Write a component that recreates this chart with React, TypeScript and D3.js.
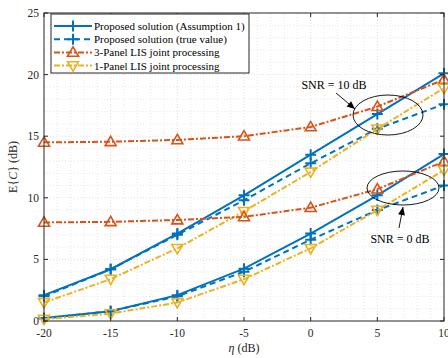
import React, { useEffect, useRef } from 'react';
import * as d3 from 'd3';

// x axis: eta (dB)
const etaValues = [-20, -15, -10, -5, 0, 5, 10];

// SNR = 10 dB
const proposedA1Snr10 = [2.1, 4.2, 7.1, 10.2, 13.5, 16.8, 20.1];
const proposedTrueSnr10 = [2.0, 4.2, 7.0, 9.8, 12.8, 15.6, 17.6];
const panel3Snr10 = [14.5, 14.55, 14.7, 15.0, 15.75, 17.4, 19.6];
const panel1Snr10 = [1.5, 3.4, 5.9, 8.9, 12.1, 15.6, 18.9];

// SNR = 0 dB
const proposedA1Snr0 = [0.25, 0.8, 2.1, 4.25, 7.1, 10.2, 13.55];
const proposedTrueSnr0 = [0.2, 0.8, 2.0, 4.0, 6.6, 9.0, 11.0];
const panel3Snr0 = [8.0, 8.05, 8.2, 8.45, 9.2, 10.7, 12.95];
const panel1Snr0 = [0.15, 0.6, 1.5, 3.4, 5.9, 9.0, 12.25];

const xTicks = [-20, -15, -10, -5, 0, 5, 10];
const yTicks = [0, 5, 10, 15, 20, 25];

const legendLabels = [
  'Proposed solution (Assumption 1)',
  'Proposed solution (true value)',
  '3-Panel LIS joint processing',
  '1-Panel LIS joint processing',
];

const App = () => {
  const svgRef = useRef(null);

  useEffect(() => {
    document.body.style.margin = '0';
    const width = 448;
    const height = 358;
    const m = { left: 44, right: 4, top: 13, bottom: 37 };
    const font = '"Liberation Serif", "DejaVu Serif", serif';

    const svg = d3.select(svgRef.current)
      .attr('width', width)
      .attr('height', height)
      .style('display', 'block')
      .style('font-family', font);
    svg.selectAll('*').remove();

    const x = d3.scaleLinear().domain([-20, 10]).range([m.left, width - m.right]);
    const y = d3.scaleLinear().domain([0, 25]).range([height - m.bottom, m.top]);

    const blue = '#0072BD';
    const orange = '#D95319';
    const yellow = '#EDB120';
    const axisCol = '#262626';

    svg.append('rect').attr('x', 0).attr('y', 0).attr('width', width).attr('height', height).attr('fill', '#fff');

    // grid (major + minor, dotted)
    const grid = svg.append('g');
    d3.range(-19, 10, 1).forEach(v => {
      grid.append('line')
        .attr('x1', x(v)).attr('x2', x(v)).attr('y1', y(0)).attr('y2', y(25))
        .attr('stroke', v % 5 === 0 ? '#d4d4d4' : '#e2e2e2')
        .attr('stroke-width', 0.8)
        .attr('stroke-dasharray', v % 5 === 0 ? '1,2' : '1,2');
    });
    d3.range(1, 25, 1).forEach(v => {
      grid.append('line')
        .attr('x1', x(-20)).attr('x2', x(10)).attr('y1', y(v)).attr('y2', y(v))
        .attr('stroke', v % 5 === 0 ? '#d4d4d4' : '#e2e2e2')
        .attr('stroke-width', 0.8)
        .attr('stroke-dasharray', '1,2');
    });

    // series
    const series = [
      { vals: proposedA1Snr10, color: blue, dash: null, marker: 'plus' },
      { vals: proposedTrueSnr10, color: blue, dash: '6,4', marker: 'plus' },
      { vals: panel3Snr10, color: orange, dash: '6,2,2,2', marker: 'tri' },
      { vals: panel1Snr10, color: yellow, dash: '6,2,2,2', marker: 'dtri' },
      { vals: proposedA1Snr0, color: blue, dash: null, marker: 'plus' },
      { vals: proposedTrueSnr0, color: blue, dash: '6,4', marker: 'plus' },
      { vals: panel3Snr0, color: orange, dash: '6,2,2,2', marker: 'tri' },
      { vals: panel1Snr0, color: yellow, dash: '6,2,2,2', marker: 'dtri' },
    ];

    const line = d3.line()
      .x((d, i) => x(etaValues[i]))
      .y(d => y(d));

    const drawMarker = (g, kind, cx, cy, color) => {
      if (kind === 'plus') {
        g.append('path')
          .attr('d', `M${cx - 5.5},${cy}H${cx + 5.5}M${cx},${cy - 5.5}V${cy + 5.5}`)
          .attr('stroke', color).attr('stroke-width', 2).attr('fill', 'none');
      } else {
        const s = kind === 'tri' ? -1 : 1;
        const r = 5.5;
        g.append('path')
          .attr('d', `M${cx},${cy + s * r}L${cx - r},${cy - s * r * 0.7}L${cx + r},${cy - s * r * 0.7}Z`)
          .attr('stroke', color).attr('stroke-width', 1.6).attr('fill', 'none')
          .attr('stroke-linejoin', 'miter');
      }
    };

    const plot = svg.append('g');
    series.forEach(s => {
      plot.append('path')
        .datum(s.vals)
        .attr('d', line)
        .attr('fill', 'none')
        .attr('stroke', s.color)
        .attr('stroke-width', 2)
        .attr('stroke-dasharray', s.dash);
      s.vals.forEach((v, i) => drawMarker(plot, s.marker, x(etaValues[i]), y(v), s.color));
    });

    // axes frame
    const ax = svg.append('g');
    ax.append('rect')
      .attr('x', x(-20)).attr('y', y(25))
      .attr('width', x(10) - x(-20)).attr('height', y(0) - y(25))
      .attr('fill', 'none').attr('stroke', axisCol).attr('stroke-width', 1);
    xTicks.forEach(t => {
      ax.append('line').attr('x1', x(t)).attr('x2', x(t)).attr('y1', y(0)).attr('y2', y(0) - 4).attr('stroke', axisCol);
      ax.append('line').attr('x1', x(t)).attr('x2', x(t)).attr('y1', y(25)).attr('y2', y(25) + 4).attr('stroke', axisCol);
      ax.append('text')
        .attr('x', x(t)).attr('y', y(0) + 16)
        .attr('text-anchor', 'middle')
        .attr('font-size', 11.5).attr('fill', axisCol)
        .text(t);
    });
    yTicks.forEach(t => {
      ax.append('line').attr('x1', x(-20)).attr('x2', x(-20) + 4).attr('y1', y(t)).attr('y2', y(t)).attr('stroke', axisCol);
      ax.append('line').attr('x1', x(10)).attr('x2', x(10) - 4).attr('y1', y(t)).attr('y2', y(t)).attr('stroke', axisCol);
      ax.append('text')
        .attr('x', x(-20) - 5).attr('y', y(t) + 4)
        .attr('text-anchor', 'end')
        .attr('font-size', 11.5).attr('fill', axisCol)
        .text(t);
    });

    // axis labels
    const xl = svg.append('text')
      .attr('x', (x(-20) + x(10)) / 2).attr('y', 352)
      .attr('text-anchor', 'middle').attr('font-size', 12).attr('fill', axisCol);
    xl.append('tspan').attr('font-style', 'italic').text('η');
    xl.append('tspan').text(' (dB)');

    const yl = svg.append('text')
      .attr('transform', `translate(17,${(y(0) + y(25)) / 2}) rotate(-90)`)
      .attr('text-anchor', 'middle').attr('font-size', 12).attr('fill', axisCol);
    yl.append('tspan').text('E{');
    yl.append('tspan').attr('font-style', 'italic').text('C');
    yl.append('tspan').text('} (dB)');

    // annotations
    const ann = svg.append('g');
    ann.append('ellipse').attr('cx', 388).attr('cy', 115).attr('rx', 35).attr('ry', 20)
      .attr('fill', 'none').attr('stroke', '#000').attr('stroke-width', 0.9);
    ann.append('ellipse').attr('cx', 403).attr('cy', 188).attr('rx', 36).attr('ry', 17)
      .attr('fill', 'none').attr('stroke', '#000').attr('stroke-width', 0.9);
    ann.append('text').attr('x', 334).attr('y', 89).attr('text-anchor', 'middle')
      .attr('font-size', 12).attr('fill', '#000').text('SNR = 10 dB');
    ann.append('text').attr('x', 400).attr('y', 243).attr('text-anchor', 'middle')
      .attr('font-size', 12).attr('fill', '#000').text('SNR = 0 dB');

    const arrow = (x1, y1, x2, y2) => {
      ann.append('line').attr('x1', x1).attr('y1', y1).attr('x2', x2).attr('y2', y2)
        .attr('stroke', '#000').attr('stroke-width', 0.9);
      const a = Math.atan2(y2 - y1, x2 - x1);
      const L = 8, W = 3.5;
      const bx = x2 - L * Math.cos(a), by = y2 - L * Math.sin(a);
      const px = -Math.sin(a) * W, py = Math.cos(a) * W;
      ann.append('path')
        .attr('d', `M${x2},${y2}L${bx + px},${by + py}L${bx - px},${by - py}Z`)
        .attr('fill', '#000');
    };
    arrow(336, 93, 355, 109);
    arrow(399, 228, 403, 207);

    // legend
    const lg = svg.append('g');
    lg.append('rect').attr('x', 51).attr('y', 14).attr('width', 198).attr('height', 59)
      .attr('fill', '#fff').attr('stroke', axisCol).attr('stroke-width', 1);
    const legendSeries = series.slice(0, 4);
    legendLabels.forEach((lab, i) => {
      const ly = 26 + i * 13.2;
      const s = legendSeries[i];
      lg.append('line').attr('x1', 54).attr('x2', 92).attr('y1', ly).attr('y2', ly)
        .attr('stroke', s.color).attr('stroke-width', 2).attr('stroke-dasharray', s.dash);
      drawMarker(lg, s.marker, 73, ly, s.color);
      lg.append('text').attr('x', 94).attr('y', ly + 4)
        .attr('font-size', 11).attr('fill', '#000').text(lab);
    });
  }, []);

  return (
    <div>
      <svg ref={svgRef}></svg>
    </div>
  );
};

export default App;
